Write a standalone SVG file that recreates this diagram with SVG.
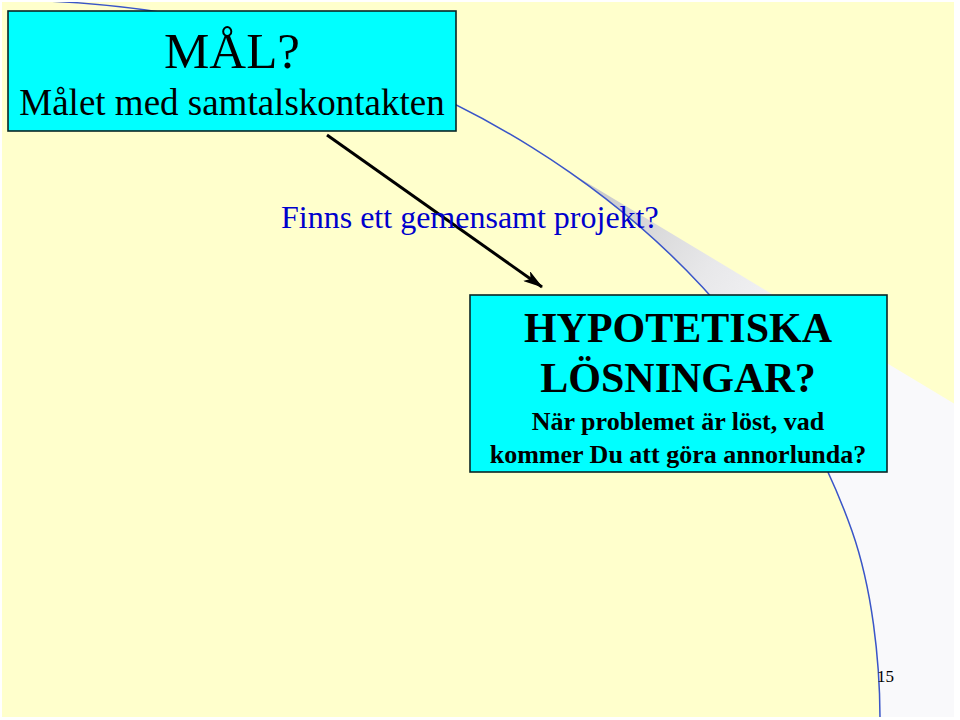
<svg xmlns="http://www.w3.org/2000/svg" width="960" height="720" viewBox="0 0 960 720">
<style>
.box{fill:#00FFFF;stroke:#0A2626;stroke-width:1.6}
.serif{font-family:"Liberation Serif","Times New Roman",serif}
.dark{fill:#000000}
.bold{font-weight:bold}
</style>
<defs>
<clipPath id="slide"><rect x="2" y="2" width="952" height="715"/></clipPath>
<linearGradient id="beam" gradientUnits="userSpaceOnUse" x1="585" y1="175" x2="820" y2="330">
<stop offset="0" stop-color="#C6C6C6"/>
<stop offset="0.55" stop-color="#E8E8EA"/>
<stop offset="1" stop-color="#F9F9FB"/>
</linearGradient>
<marker id="arrow" viewBox="0 0 20 12" refX="19" refY="6" markerWidth="20" markerHeight="12" markerUnits="userSpaceOnUse" orient="auto">
<path d="M0,0 L20,6 L0,12 L5,6 Z" fill="#000000"/>
</marker>
</defs>
<rect x="0" y="0" width="960" height="720" fill="#FFFFFF"/>
<g id="background" clip-path="url(#slide)">
<rect x="0" y="0" width="960" height="720" fill="#FFFFCC"/>
<path d="M560,166.5 L960,407 L960,720 L880,720 C880,660 872,588 852,531 A888 740 0 0 0 560,166.5 Z" fill="url(#beam)"/>
<path d="M0,0 A888 740 0 0 1 852,531 C872,588 880,660 880,720" fill="none" stroke="#3A55C8" stroke-width="1.5"/>
</g>
<g id="connectors">
<line x1="327" y1="135" x2="542" y2="287" stroke="#000000" stroke-width="3" marker-end="url(#arrow)"/>
</g>
<g id="node-mal">
<rect class="box" x="8" y="11" width="448" height="120"/>
<text class="serif dark" x="232" y="68" font-size="51" text-anchor="middle">MÅL?</text>
<text class="serif dark" x="232" y="115" font-size="37" text-anchor="middle">Målet med samtalskontakten</text>
</g>
<g id="label-projekt">
<text class="serif" x="281" y="228" font-size="32" fill="#0000CC">Finns ett gemensamt projekt?</text>
</g>
<g id="node-hypotetiska">
<rect class="box" x="470" y="295" width="417" height="177"/>
<text class="serif dark bold" x="678" y="342" font-size="42" text-anchor="middle">HYPOTETISKA</text>
<text class="serif dark bold" x="678" y="392" font-size="42" text-anchor="middle">LÖSNINGAR?</text>
<text class="serif dark bold" x="678" y="430" font-size="26" text-anchor="middle">När problemet är löst, vad</text>
<text class="serif dark bold" x="678" y="463" font-size="26" text-anchor="middle">kommer Du att göra annorlunda?</text>
</g>
<g id="page-number">
<text class="serif dark" x="877" y="682" font-size="17">15</text>
</g>
</svg>
